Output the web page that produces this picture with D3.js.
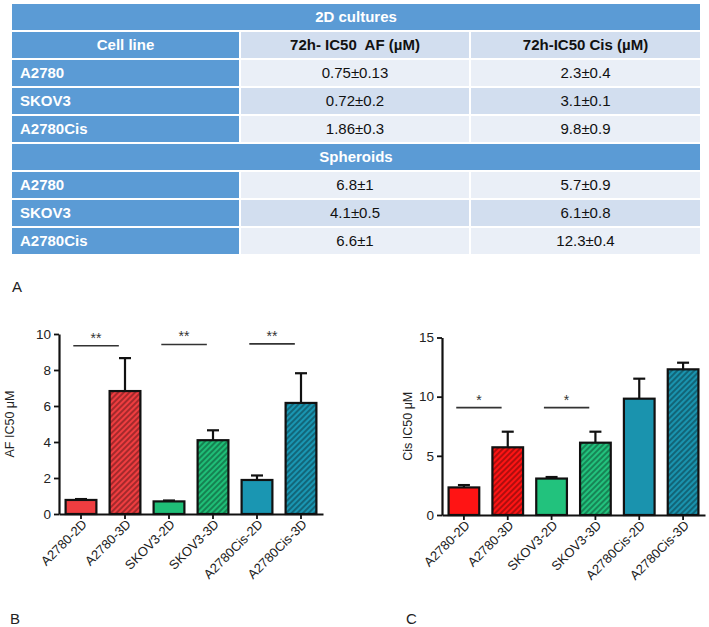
<!DOCTYPE html>
<html>
<head>
<meta charset="utf-8" />
<script src="https://cdn.jsdelivr.net/npm/d3@7/dist/d3.min.js"></script>
<style>
    body { margin: 0; background: #fff; }
    text { font-family: "Liberation Sans", Arial, sans-serif; }
</style>
</head>
<body>
<script>
    // table values
    var cellLines = ["A2780", "SKOV3", "A2780Cis"];
    var tableHeaders = ["Cell line", "72h- IC50  AF (µM)", "72h-IC50 Cis (µM)"];
    var sectionTitles = ["2D cultures", "Spheroids"];
    var af2D = ["0.75±0.13", "0.72±0.2", "1.86±0.3"];
    var cis2D = ["2.3±0.4", "3.1±0.1", "9.8±0.9"];
    var af3D = ["6.8±1", "4.1±0.5", "6.6±1"];
    var cis3D = ["5.7±0.9", "6.1±0.8", "12.3±0.4"];

    // bar chart values
    var groups = ["A2780-2D", "A2780-3D", "SKOV3-2D", "SKOV3-3D", "A2780Cis-2D", "A2780Cis-3D"];
    var afMean = [0.78, 6.83, 0.70, 4.10, 1.89, 6.17];
    var afErr = [0.05, 1.83, 0.05, 0.55, 0.25, 1.65];
    var afTicks = [0, 2, 4, 6, 8, 10];
    var afSig = [["A2780-2D", "A2780-3D", 9.35, "**"], ["SKOV3-2D", "SKOV3-3D", 9.42, "**"], ["A2780Cis-2D", "A2780Cis-3D", 9.45, "**"]];
    var cisMean = [2.33, 5.72, 3.08, 6.11, 9.83, 12.31];
    var cisErr = [0.2, 1.32, 0.13, 0.93, 1.69, 0.56];
    var cisTicks = [0, 5, 10, 15];
    var cisSig = [["A2780-2D", "A2780-3D", 9.07, "*"], ["SKOV3-2D", "SKOV3-3D", 9.07, "*"]];

    var svg = d3.select("body").append("svg")
        .attr("width", 709)
        .attr("height", 627);
    var defs = svg.append("defs");

    // ---- table ----
    var colEdges = [12, 240, 470, 700],
        rowTop = 4,
        rowStep = 28,
        rowH = 26,
        blue = "#5b9bd5",
        bandDark = "#d2deef",
        bandLight = "#eaeff7";

    var rows = [];
    rows.push({type: "title", label: sectionTitles[0]});
    rows.push({type: "head", cells: tableHeaders, band: bandDark});
    cellLines.forEach(function(c, i) {
        rows.push({type: "data", cells: [c, af2D[i], cis2D[i]], band: i % 2 ? bandDark : bandLight});
    });
    rows.push({type: "title", label: sectionTitles[1]});
    cellLines.forEach(function(c, i) {
        rows.push({type: "data", cells: [c, af3D[i], cis3D[i]], band: i % 2 ? bandDark : bandLight});
    });

    var table = svg.append("g");
    rows.forEach(function(r, i) {
        var y0 = rowTop + i * rowStep;
        if (r.type == "title") {
            table.append("rect")
                .attr("x", colEdges[0]).attr("y", y0)
                .attr("width", colEdges[3] - colEdges[0]).attr("height", rowH)
                .attr("fill", blue);
            table.append("text")
                .attr("x", (colEdges[0] + colEdges[3]) / 2).attr("y", y0 + rowH / 2)
                .attr("dy", "0.35em")
                .attr("text-anchor", "middle")
                .attr("fill", "#fff")
                .style("font-size", "15px").style("font-weight", "bold")
                .text(r.label);
            return;
        }
        r.cells.forEach(function(c, j) {
            var x0 = colEdges[j] + (j > 0 ? 1 : 0),
                x1 = colEdges[j + 1] - (j < 2 ? 1 : 0);
            table.append("rect")
                .attr("x", x0).attr("y", y0)
                .attr("width", x1 - x0).attr("height", rowH)
                .attr("fill", j == 0 ? blue : r.band);
            var t = table.append("text")
                .attr("y", y0 + rowH / 2)
                .attr("dy", "0.35em")
                .style("font-size", "15px")
                .style("white-space", "pre")
                .text(c);
            if (j == 0 && r.type == "data") {
                t.attr("x", x0 + 8).attr("text-anchor", "start");
            } else {
                t.attr("x", (x0 + x1) / 2).attr("text-anchor", "middle");
            }
            if (j == 0) t.attr("fill", "#fff").style("font-weight", "bold");
            else t.attr("fill", "#111").style("font-weight", r.type == "head" ? "bold" : "normal");
        });
    });

    svg.append("text").attr("x", 12).attr("y", 292)
        .style("font-size", "15px").attr("fill", "#222").text("A");

    // ---- bar charts ----
    function hatch(id, color) {
        var p = defs.append("pattern")
            .attr("id", id)
            .attr("patternUnits", "userSpaceOnUse")
            .attr("width", 4).attr("height", 4)
            .attr("patternTransform", "rotate(45)");
        p.append("rect").attr("width", 4).attr("height", 4).attr("fill", color);
        p.append("line").attr("x1", 1).attr("y1", 0).attr("x2", 1).attr("y2", 4)
            .attr("stroke", "rgba(0,0,0,0.45)").attr("stroke-width", 1.4);
        return "url(#" + id + ")";
    }

    function drawChart(cfg) {
        var g = svg.append("g");
        var x = d3.scaleBand().domain(groups).range(cfg.xRange).paddingInner(0.3).paddingOuter(0.15);
        var y = d3.scaleLinear().domain([0, cfg.ticks[cfg.ticks.length - 1]]).range(cfg.yRange);
        var fills = groups.map(function(d, i) {
            var base = cfg.colors[Math.floor(i / 2)];
            return i % 2 ? hatch(cfg.id + i, base) : base;
        });

        var bars = g.selectAll(".bar").data(groups).enter();
        // error bars (upper only)
        bars.append("line")
            .attr("x1", function(d) { return x(d) + x.bandwidth() / 2; })
            .attr("x2", function(d) { return x(d) + x.bandwidth() / 2; })
            .attr("y1", function(d, i) { return y(cfg.mean[i]); })
            .attr("y2", function(d, i) { return y(cfg.mean[i] + cfg.err[i]); })
            .attr("stroke", "#111").attr("stroke-width", 2.2);
        bars.append("line")
            .attr("x1", function(d) { return x(d) + x.bandwidth() / 2 - 6; })
            .attr("x2", function(d) { return x(d) + x.bandwidth() / 2 + 6; })
            .attr("y1", function(d, i) { return y(cfg.mean[i] + cfg.err[i]); })
            .attr("y2", function(d, i) { return y(cfg.mean[i] + cfg.err[i]); })
            .attr("stroke", "#111").attr("stroke-width", 2.2);
        bars.append("rect")
            .attr("class", "bar")
            .attr("x", function(d) { return x(d); })
            .attr("width", x.bandwidth())
            .attr("y", function(d, i) { return y(cfg.mean[i]); })
            .attr("height", function(d, i) { return y(0) - y(cfg.mean[i]); })
            .attr("fill", function(d, i) { return fills[i]; })
            .attr("stroke", "#111").attr("stroke-width", 2.2);

        // significance marks
        cfg.sig.forEach(function(s) {
            var x1 = x(s[0]) + x.bandwidth() * 0.25,
                x2 = x(s[1]) + x.bandwidth() * 0.3;
            g.append("line")
                .attr("x1", x1).attr("x2", x2)
                .attr("y1", y(s[2])).attr("y2", y(s[2]))
                .attr("stroke", "#333").attr("stroke-width", 1.6);
            g.append("text")
                .attr("x", (x1 + x2) / 2).attr("y", y(s[2]) - 3)
                .attr("text-anchor", "middle")
                .style("font-size", "14px").attr("fill", "#333")
                .text(s[3]);
        });

        var yAxis = g.append("g")
            .attr("transform", "translate(" + cfg.xRange[0] + ",0)")
            .call(d3.axisLeft(y).tickValues(cfg.ticks).tickSize(5).tickSizeOuter(0).tickPadding(3));
        var xAxis = g.append("g")
            .attr("transform", "translate(0," + cfg.yRange[0] + ")")
            .call(d3.axisBottom(x).tickSize(5).tickSizeOuter(0));
        xAxis.selectAll("text")
            .attr("text-anchor", "end")
            .attr("transform", "rotate(-45)")
            .attr("x", -3).attr("y", 8).attr("dy", "0.35em");
        g.selectAll(".domain").attr("stroke", "#111").attr("stroke-width", 2.2);
        g.selectAll(".tick line").attr("stroke", "#111").attr("stroke-width", 1.8);
        g.selectAll(".tick text").style("font-size", "13px")
            .style("font-family", "'Liberation Sans', Arial, sans-serif").attr("fill", "#222");
        yAxis.selectAll("text").style("font-size", "13.5px");

        g.append("text")
            .attr("transform", "translate(" + cfg.labelX + "," + (cfg.yRange[0] + cfg.yRange[1]) / 2 + ") rotate(-90)")
            .attr("text-anchor", "middle")
            .attr("dy", "0.35em")
            .style("font-size", "12.5px").attr("fill", "#222")
            .text(cfg.label);
        g.append("text")
            .attr("x", cfg.panelX).attr("y", 624)
            .style("font-size", "15px").attr("fill", "#222")
            .text(cfg.panel);
    }

    drawChart({
        id: "hb", mean: afMean, err: afErr, ticks: afTicks, sig: afSig,
        colors: ["#ef3d40", "#1fbe77", "#1a96b2"],
        xRange: [59, 323], yRange: [514, 334],
        label: "AF IC50 μM", labelX: 10, panel: "B", panelX: 10
    });
    drawChart({
        id: "hc", mean: cisMean, err: cisErr, ticks: cisTicks, sig: cisSig,
        colors: ["#ff1414", "#22c27d", "#1a93ae"],
        xRange: [442, 705], yRange: [515, 337.5],
        label: "Cis IC50 μM", labelX: 408, panel: "C", panelX: 406
    });
</script>
</body>
</html>
